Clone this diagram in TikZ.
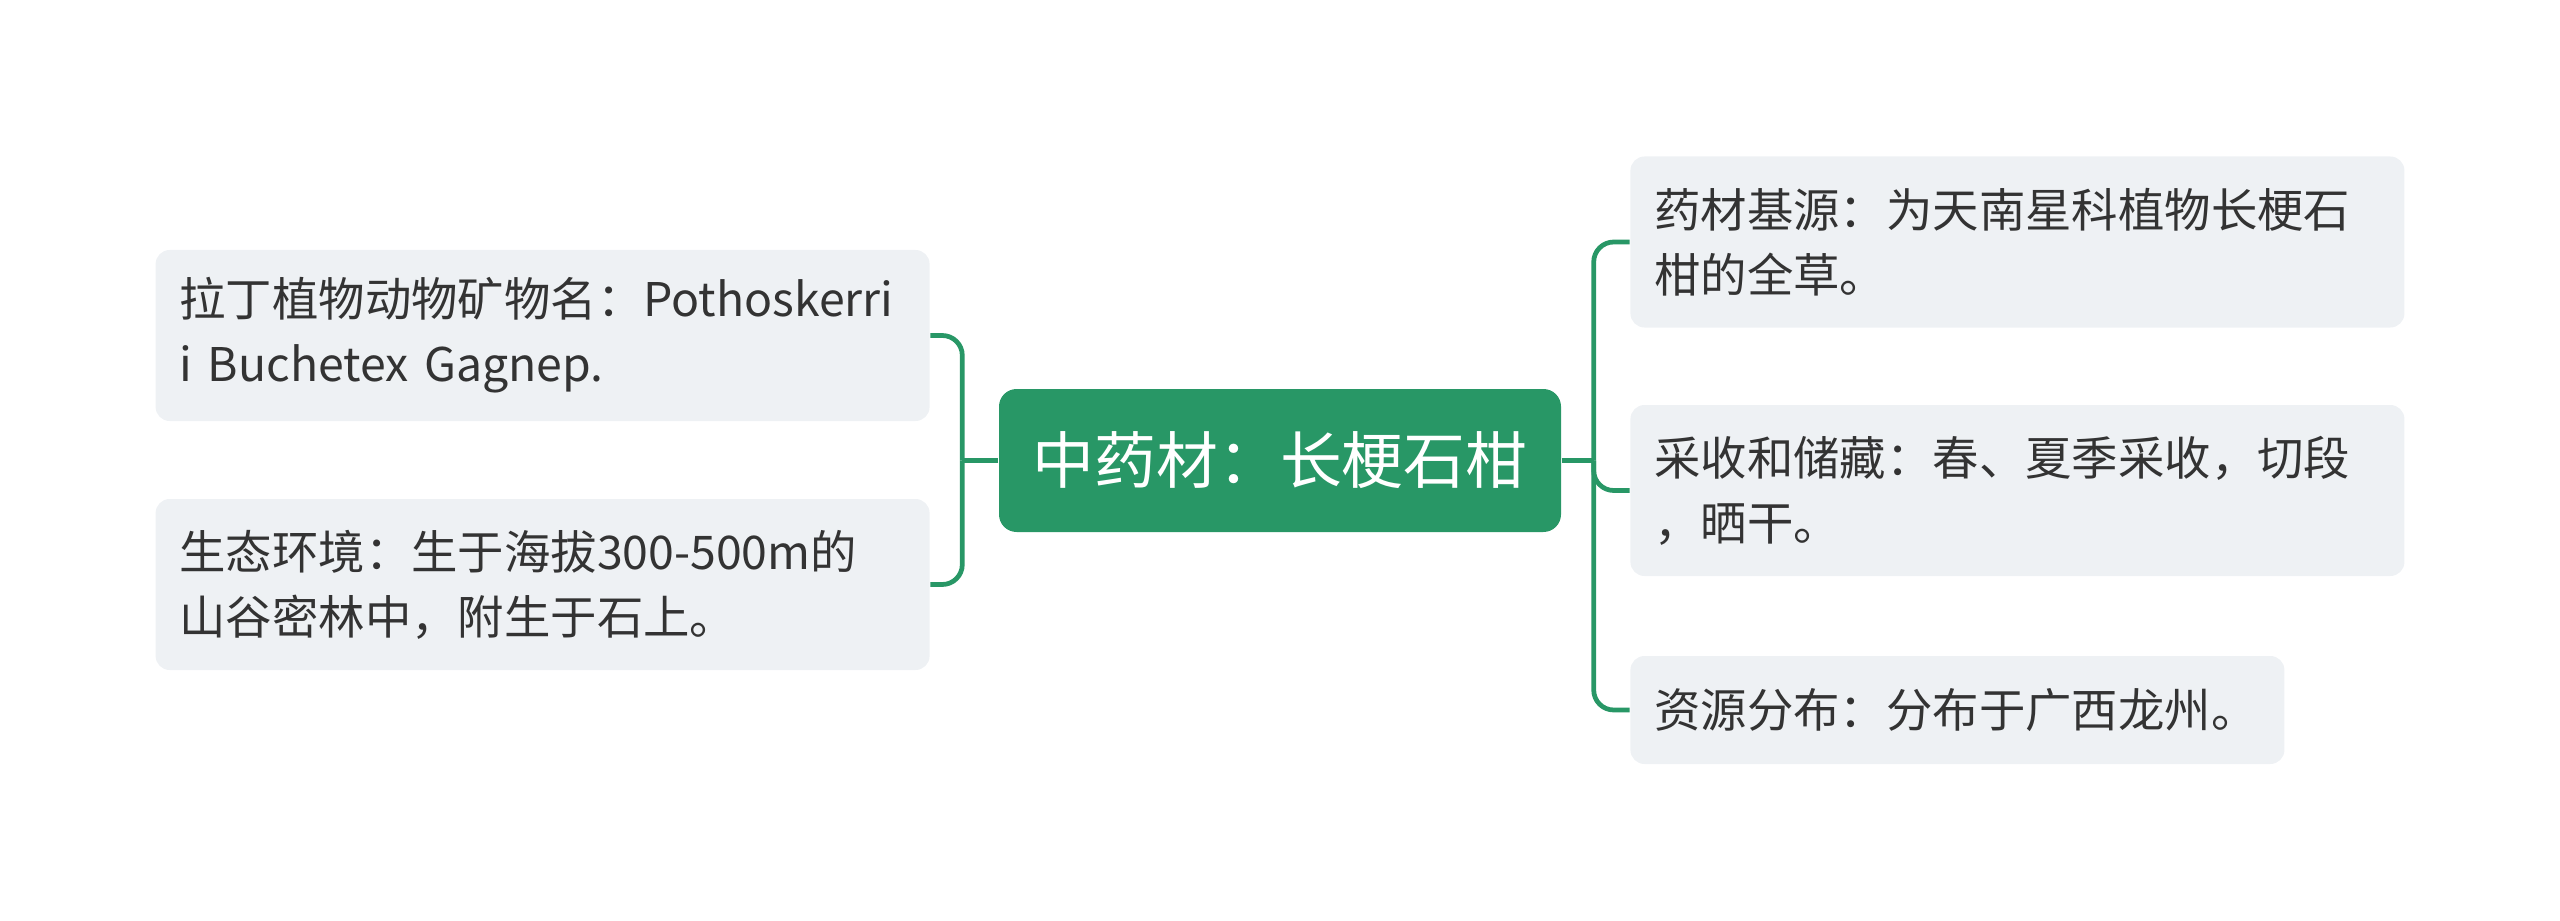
\documentclass[tikz,border=0pt]{standalone}
\usepackage{fontspec}
\setmainfont{Noto Sans CJK SC}
\usepackage{xcolor}
\usetikzlibrary{positioning}
\definecolor{herbgreen}{HTML}{289766}
\definecolor{leafbg}{HTML}{EEF1F4}
\definecolor{ink}{HTML}{333333}

\begin{document}
\begin{tikzpicture}[
  node distance=0.68cm,
  root/.style={rectangle, rounded corners=5pt, fill=herbgreen, text=white, minimum width=5.62cm, minimum height=1.43cm, font=\fontsize{17.6}{22}\selectfont},
  leaf/.style={rectangle, rounded corners=4pt, fill=leafbg, text=ink, align=left, inner xsep=0.24cm, inner ysep=0.2cm, text width=7.26cm, minimum height=1.71cm, font=\fontsize{13.2}{18.5}\selectfont},
  branch/.style={draw=herbgreen, line width=1.35pt, rounded corners=0.2cm}
]
\useasboundingbox (0,0) rectangle (25.6,-9.21);

\node[root] (root) at (12.8,-4.605) {中药材：长梗石柑};
\node[leaf, left=of root, yshift=1.25cm] (latin) {拉丁植物动物矿物名：Pothoskerri\\i Buchetex Gagnep.};
\node[leaf, left=of root, yshift=-1.24cm] (habitat) {生态环境：生于海拔300-500m的\\山谷密林中，附生于石上。};
\node[leaf, right=of root, yshift=2.185cm] (source) {药材基源：为天南星科植物长梗石\\柑的全草。};
\node[leaf, right=of root, yshift=-0.3cm] (harvest) {采收和储藏：春、夏季采收，切段\\，晒干。};
\node[leaf, right=of root, yshift=-2.495cm, text width=6.06cm, minimum height=1.08cm] (region) {资源分布：分布于广西龙州。};

\coordinate[left=0.36cm of root] (ljoin);
\coordinate[right=0.32cm of root] (rjoin);

\draw[branch] (root.west) -- (ljoin);
\draw[branch] (ljoin) |- (latin.east);
\draw[branch] (ljoin) |- (habitat.east);
\draw[branch] (root.east) -- (rjoin);
\draw[branch] (rjoin) |- (source.west);
\draw[branch] (rjoin) |- (harvest.west);
\draw[branch] (rjoin) |- (region.west);

\end{tikzpicture}
\end{document}
